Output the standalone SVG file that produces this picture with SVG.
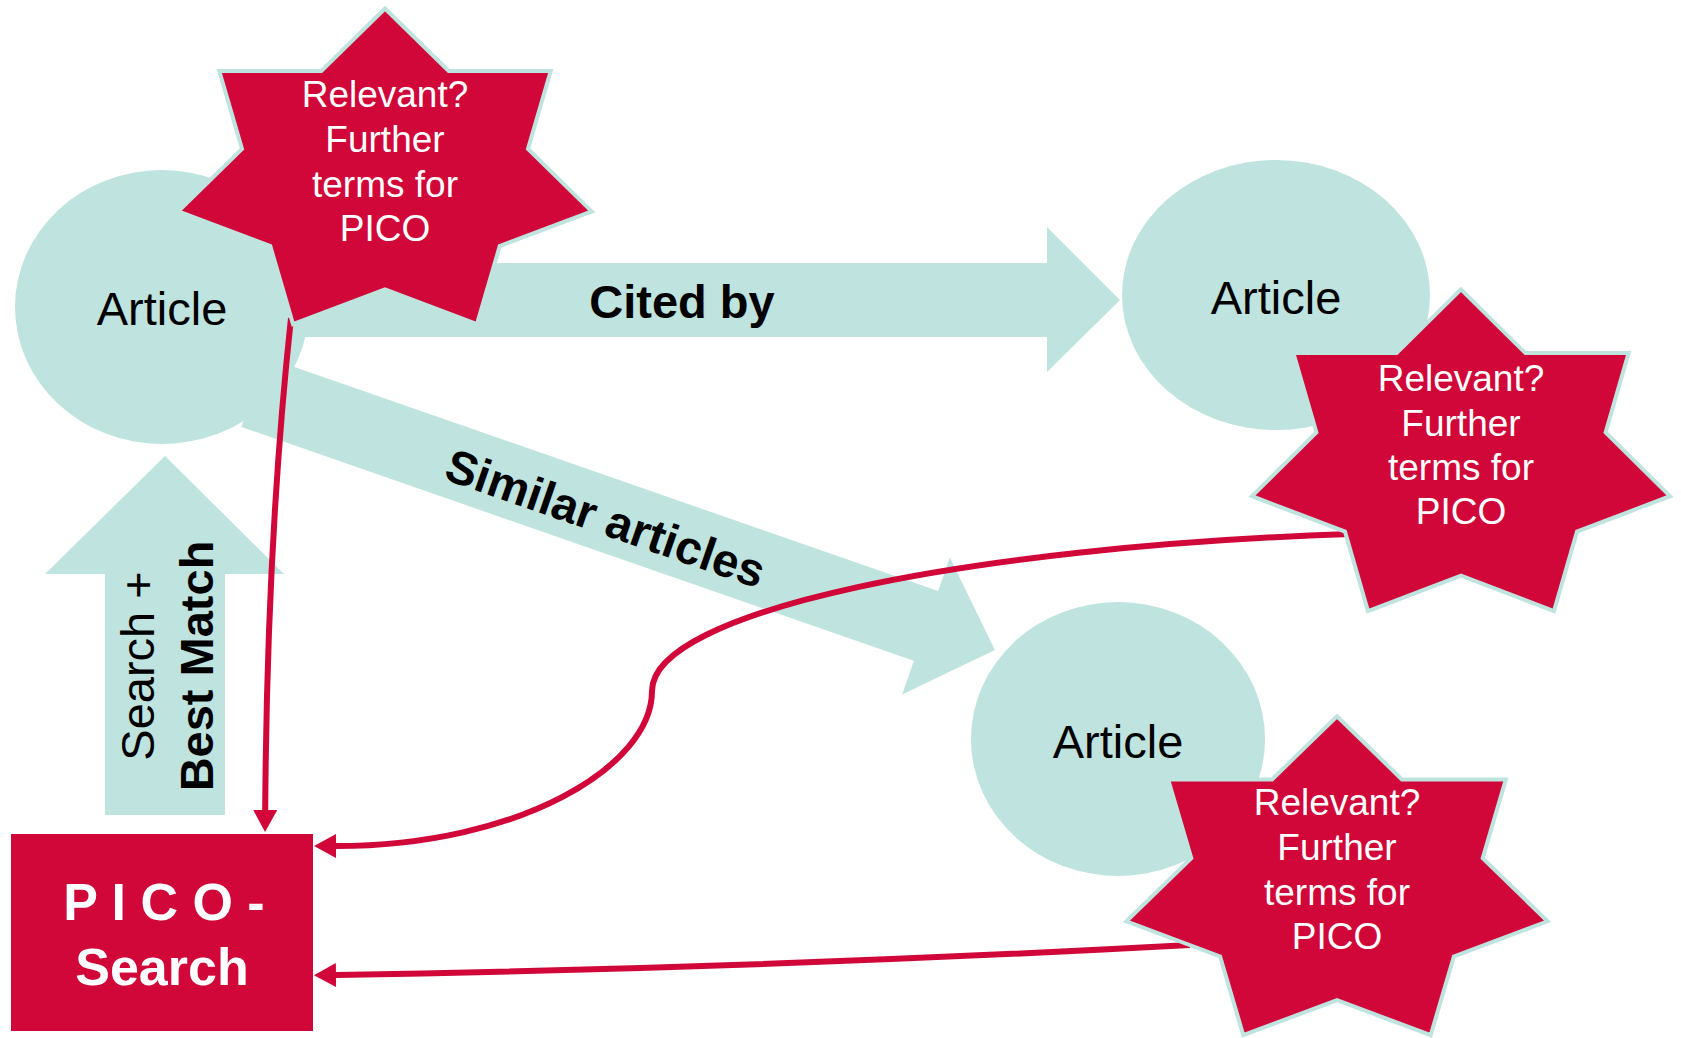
<svg xmlns="http://www.w3.org/2000/svg" width="1681" height="1038" viewBox="0 0 1681 1038">
<style>
.teal{fill:#BFE3DE}
.star{fill:#D10639;stroke:#BFE3DE;stroke-width:4;stroke-linejoin:miter}
.red{fill:none;stroke:#D10639;stroke-width:6}
.lbl{font-family:"Liberation Sans",Arial,sans-serif;font-size:47px;fill:#000}
.b{font-weight:bold}
.st{font-family:"Liberation Sans",Arial,sans-serif;font-size:37px;fill:#fff;text-anchor:middle}
.pico{font-family:"Liberation Sans",Arial,sans-serif;font-size:52px;font-weight:bold;fill:#fff;text-anchor:middle}
</style>
<defs>
<marker id="ah" viewBox="0 0 22 24" refX="0" refY="12" markerWidth="22" markerHeight="24" markerUnits="userSpaceOnUse" orient="auto">
<path d="M0,0 L22,12 L0,24 Z" fill="#D10639"/>
</marker>
</defs>
<rect width="1681" height="1038" fill="#fff"/>

<g id="article1">
<ellipse class="teal" cx="162" cy="307" rx="147" ry="137"/>
<text class="lbl" x="162" y="325" text-anchor="middle">Article</text>
</g>
<g id="article2">
<ellipse class="teal" cx="1276" cy="295" rx="154" ry="135"/>
<text class="lbl" x="1276" y="314" text-anchor="middle">Article</text>
</g>
<g id="article3">
<ellipse class="teal" cx="1118" cy="739" rx="147" ry="137"/>
<text class="lbl" x="1118" y="758" text-anchor="middle">Article</text>
</g>

<g id="connectors">
<g id="cited-by">
<polygon class="teal" points="260,263 1047,263 1047,227 1120,300 1047,372 1047,337 260,337"/>
<text class="lbl b" x="682" y="318" text-anchor="middle">Cited by</text>
</g>
<g id="similar-articles" transform="translate(253.5,392) rotate(19.18)">
<polygon class="teal" points="0,-37 712,-37 712,-72.5 785,0 712,72.5 712,37 0,37"/>
<text class="lbl b" x="374" y="20" text-anchor="middle">Similar articles</text>
</g>
<g id="search-best-match">
<polygon class="teal" points="105,815 105,574 45,574 165,456 284,574 225,574 225,815"/>
<text class="lbl" transform="translate(154,666) rotate(-90)" text-anchor="middle">Search +</text>
<text class="lbl b" transform="translate(213,666) rotate(-90)" text-anchor="middle">Best Match</text>
</g>
<path class="red" d="M291,318 Q267,540 265.2,810" marker-end="url(#ah)"/>
<path class="red" d="M1350,534 C965,547 652,611 652,691 C652,766 520,846 336,846" marker-end="url(#ah)"/>
<path class="red" d="M1190,945 Q760,968 336,975" marker-end="url(#ah)"/>
</g>

<g id="star1">
<polygon class="star" points="385,8.5 448.7,71 550.7,71 528,148.9 591.7,211.4 499.7,246.1 477,324.1 385,289.4 293,324.1 270.3,246.1 178.3,211.4 242,148.9 219.3,71 321.3,71"/>
<text class="st" x="385" y="107">Relevant?</text>
<text class="st" x="385" y="152">Further</text>
<text class="st" x="385" y="197">terms for</text>
<text class="st" x="385" y="241">PICO</text>
</g>
<g id="star2">
<polygon class="star" points="1461,289.4 1525.4,353.1 1628.6,353.1 1605.6,432.5 1670,496.2 1577,531.6 1554,611 1461,575.7 1368,611 1345,531.6 1252,496.2 1316.4,432.5 1293.4,353.1 1396.6,353.1"/>
<text class="st" x="1461" y="391">Relevant?</text>
<text class="st" x="1461" y="436">Further</text>
<text class="st" x="1461" y="480">terms for</text>
<text class="st" x="1461" y="524">PICO</text>
</g>
<g id="star3">
<polygon class="star" points="1337,716.2 1401.9,779.4 1505.9,779.4 1482.7,858.2 1547.6,921.3 1453.9,956.4 1430.7,1035.2 1337,1000.1 1243.3,1035.2 1220.1,956.4 1126.4,921.3 1191.3,858.2 1168.1,779.4 1272.1,779.4"/>
<text class="st" x="1337" y="815">Relevant?</text>
<text class="st" x="1337" y="860">Further</text>
<text class="st" x="1337" y="905">terms for</text>
<text class="st" x="1337" y="949">PICO</text>
</g>

<g id="pico-search">
<rect x="11" y="834" width="302" height="197" fill="#D10639"/>
<text class="pico" x="164" y="920">P I C O -</text>
<text class="pico" x="162" y="985">Search</text>
</g>
</svg>
